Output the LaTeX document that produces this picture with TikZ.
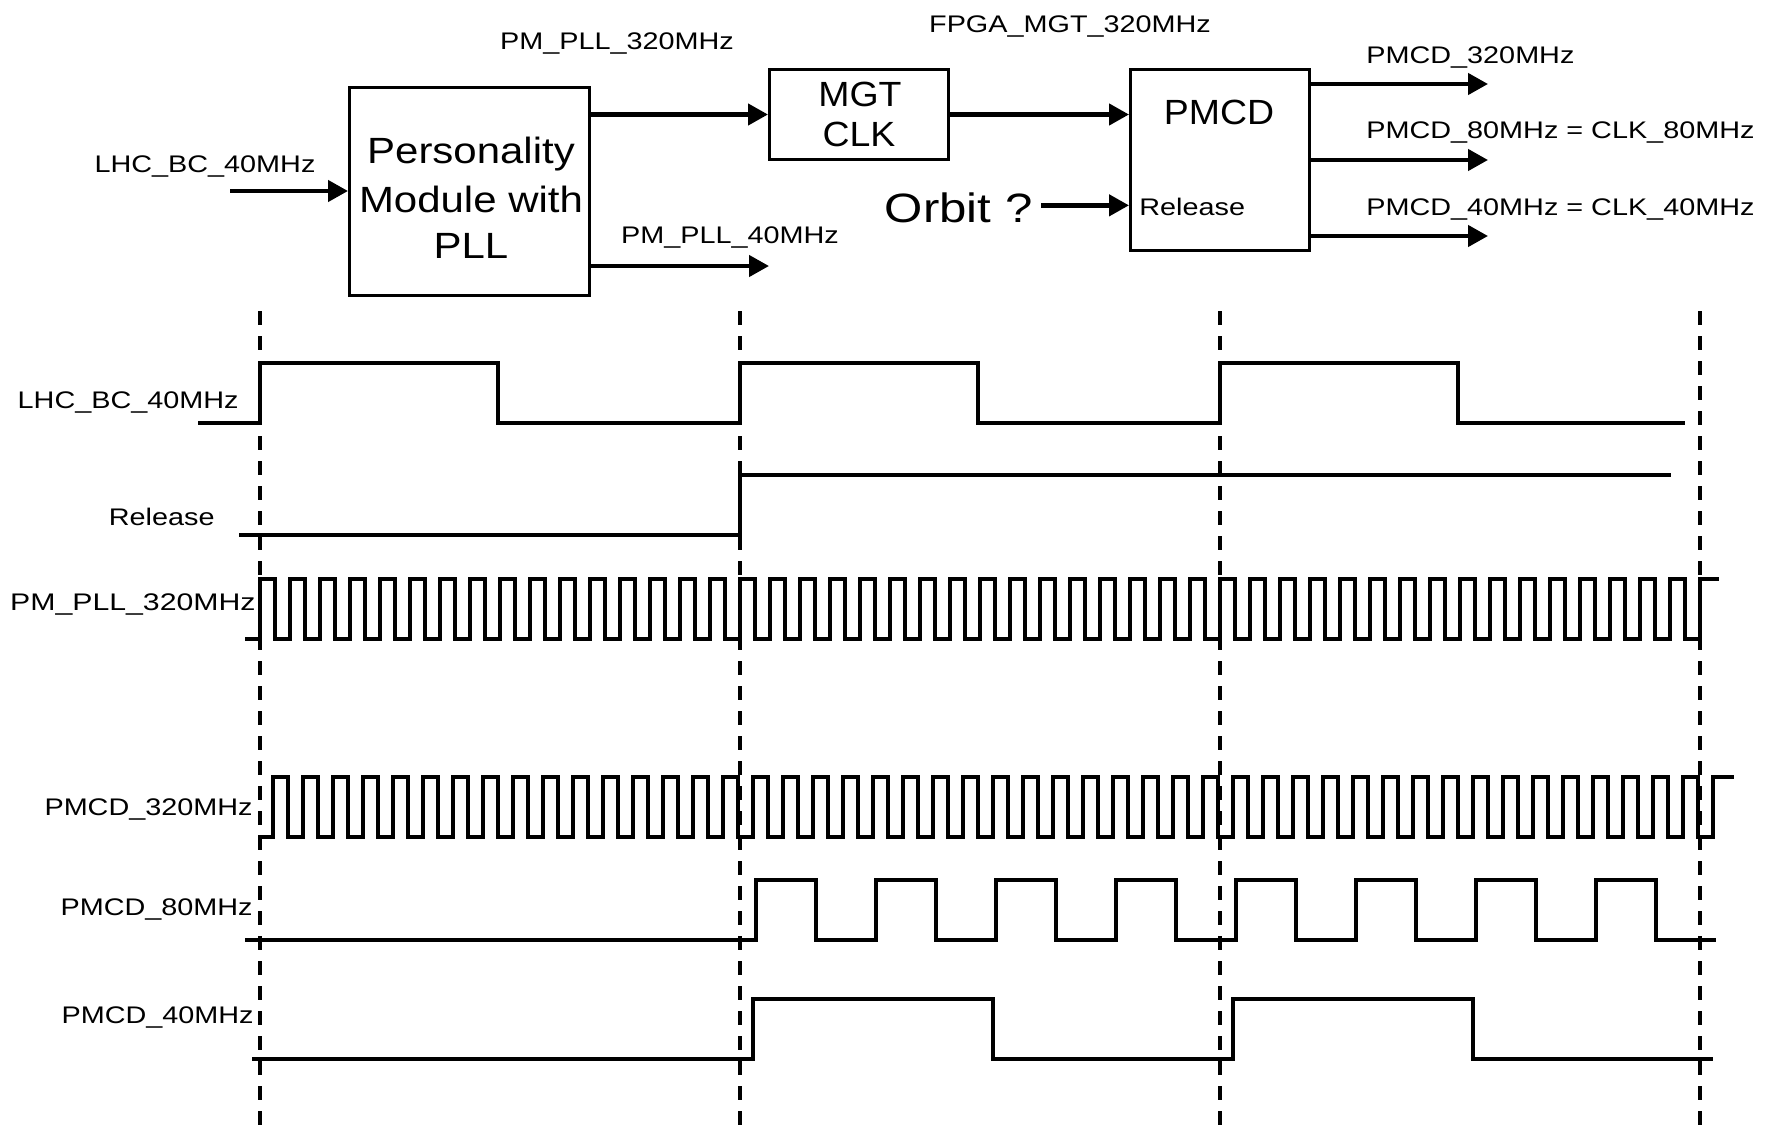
\documentclass[tikz,border=0pt]{standalone}
\usepackage{fontspec}
\setmainfont{Liberation Sans}[FakeStretch=1.2]
\newfontfamily\boxfont{Liberation Sans}[FakeStretch=1.07]
\newfontfamily\persfont{Liberation Sans}[FakeStretch=1.15]
\usetikzlibrary{arrows.meta,calc}
\begin{document}
\begin{tikzpicture}[x=0.5pt,y=-0.5pt,
  lbl/.style={inner sep=0pt, font=\fontsize{12}{14}\selectfont},
  boxtxt/.style={inner sep=0pt, font=\boxfont\fontsize{17.5}{21}\selectfont},
  perstxt/.style={inner sep=0pt, font=\persfont\fontsize{18.25}{22}\selectfont},
  blk/.style={draw, line width=1.5pt, inner sep=0pt},
  arr/.style={line width=2.2pt, -{Triangle[length=10pt,width=10.5pt]}},
  wave/.style={line width=1.6pt, line join=miter},
  gridline/.style={line width=1.7pt, dash pattern=on 7pt off 5.5pt}]
\useasboundingbox (0,0) rectangle (1771,1129);

% ---- block diagram ----
\node[blk, minimum width=120pt, minimum height=104pt] (pm) at (469.5,191.5) {};
\node[blk, minimum width=89.5pt, minimum height=45pt] (mgt) at (859,114.5) {};
\node[blk, minimum width=89.5pt, minimum height=90.5pt] (pmcd) at (1220,160) {};

\node[perstxt, anchor=base] (pers1) at (471,163) {Personality};
\node[perstxt, anchor=base] (pers2) at (471,212) {Module with};
\node[perstxt, anchor=base] (pers3) at (471,258) {PLL};
\node[boxtxt, anchor=base] (mgt1) at (860,106) {MGT};
\node[boxtxt, anchor=base] (mgt2) at (859,147) {CLK};
\node[boxtxt, anchor=base] (pmcdt) at (1219,125) {PMCD};
\node[lbl, anchor=base west] (rel) at (1139,215) {Release};
\node[inner sep=0pt, font=\fontsize{20.5}{24}\selectfont, anchor=base east] (orbit) at (1033,222) {Orbit ?};

\node[lbl, anchor=base] (tpm320) at (617,50) {PM\_PLL\_320MHz};
\node[lbl, anchor=base] (tfpga) at (1070,33) {FPGA\_MGT\_320MHz};
\node[lbl, anchor=base] (tlhc) at (205,172) {LHC\_BC\_40MHz};
\node[lbl, anchor=base] (tpm40) at (730,243) {PM\_PLL\_40MHz};
\node[lbl, anchor=base west] (to320) at (1366,64) {PMCD\_320MHz};
\node[lbl, anchor=base west] (to80) at (1366,139) {PMCD\_80MHz = CLK\_80MHz};
\node[lbl, anchor=base west] (to40) at (1366,215) {PMCD\_40MHz = CLK\_40MHz};

\coordinate (lhcin) at (230,191);
\draw[arr] (lhcin) -- (lhcin -| pm.west);
\draw[arr] (pm.east |- mgt.west) -- (mgt.west);
\coordinate (pllend) at (769,266);
\draw[arr] (pllend -| pm.east) -- (pllend);
\draw[arr] (mgt.east) -- (mgt.east -| pmcd.west);
\coordinate (orbstart) at ($(orbit.east)+(8,-2)$);
\draw[arr] (orbstart) -- (orbstart -| pmcd.west);
\coordinate (outa) at (1488,84);
\coordinate (outb) at (1488,160);
\coordinate (outc) at (1488,236);
\draw[arr] (outa -| pmcd.east) -- (outa);
\draw[arr] (outb -| pmcd.east) -- (outb);
\draw[arr] (outc -| pmcd.east) -- (outc);

% ---- timing diagram ----
\foreach \x in {260,740,1220,1700} \draw[gridline] (\x,311) -- (\x,1129);

\node[lbl, anchor=base east] (wlhc) at (239,408) {LHC\_BC\_40MHz};
\node[lbl, anchor=base east] (wrel) at (215,525) {Release};
\node[lbl, anchor=base east, xscale=1.05] (wpll) at (256,610) {PM\_PLL\_320MHz};
\node[lbl, anchor=base east] (w320) at (253,815) {PMCD\_320MHz};
\node[lbl, anchor=base east] (w80) at (253,915) {PMCD\_80MHz};
\node[lbl, anchor=base east] (w40) at (254,1023) {PMCD\_40MHz};

% LHC_BC_40MHz
\draw[wave] (198,423) -- (260,423) -- (260,363) -- (498,363) -- (498,423) -- (740,423) -- (740,363) -- (978,363) -- (978,423) -- (1220,423) -- (1220,363) -- (1458,363) -- (1458,423) -- (1685,423);
% Release
\draw[wave] (239,535) -- (740,535) -- (740,475) -- (1671,475);
% PM_PLL_320MHz
\draw[wave] (245,639) -- (260,639) \foreach \k in {0,...,47}{ -- ++(0,-60) -- ++(15,0) -- ++(0,60) -- ++(15,0) } -- ++(0,-60) -- ++(19,0);
% PMCD_320MHz
\draw[wave] (258,837) -- (273,837) \foreach \k in {0,...,47}{ -- ++(0,-60) -- ++(15,0) -- ++(0,60) -- ++(15,0) } -- ++(0,-60) -- ++(21,0);
% PMCD_80MHz
\draw[wave] (245,940) -- (756,940) \foreach \k in {0,...,7}{ -- ++(0,-60) -- ++(60,0) -- ++(0,60) -- ++(60,0) };
% PMCD_40MHz
\draw[wave] (252,1059) -- (753,1059) -- (753,999) -- (993,999) -- (993,1059) -- (1233,1059) -- (1233,999) -- (1473,999) -- (1473,1059) -- (1713,1059);
\end{tikzpicture}
\end{document}
